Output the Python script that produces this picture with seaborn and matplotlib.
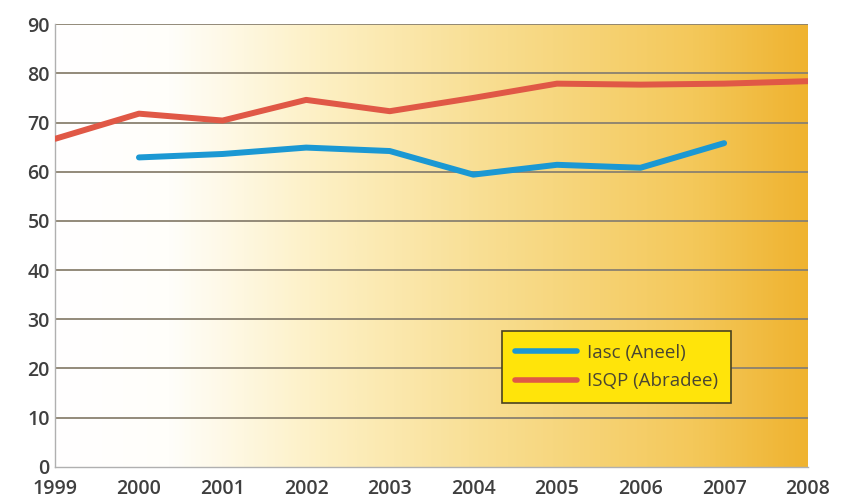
import numpy as np
import pandas as pd
import matplotlib
matplotlib.use("Agg")
import matplotlib.pyplot as plt
import seaborn as sns
from matplotlib.colors import LinearSegmentedColormap

# data
years = [1999, 2000, 2001, 2002, 2003, 2004, 2005, 2006, 2007, 2008]
isqp = [66.7, 71.8, 70.4, 74.6, 72.3, 75.0, 77.9, 77.7, 77.9, 78.4]
iasc = [np.nan, 62.9, 63.6, 64.9, 64.2, 59.4, 61.4, 60.8, 65.8, np.nan]
series_names = ["Iasc (Aneel)", "ISQP (Abradee)"]
y_ticks = [0, 10, 20, 30, 40, 50, 60, 70, 80, 90]

df = pd.DataFrame({"ano": years * 2,
                   "valor": iasc + isqp,
                   "serie": [series_names[0]] * len(years) + [series_names[1]] * len(years)})
df = df.dropna()

sns.set_style("white")
plt.rcParams['font.family'] = ['Open Sans', 'DejaVu Sans']

fig = plt.figure(figsize=(8.52, 5.03), dpi=100)
ax = fig.add_axes([0.065, 0.072, 0.883, 0.88])

# white -> gold gradient background
cmap = LinearSegmentedColormap.from_list(
    "bg", [(0.0, "#ffffff"), (0.15, "#fffefa"), (0.35, "#fdf0c4"),
           (0.6, "#f8dc8c"), (0.85, "#f4c85a"), (1.0, "#efb330")])
grad = np.linspace(0, 1, 400).reshape(1, -1)
ax.imshow(grad, aspect="auto", cmap=cmap, extent=[1999, 2008, 0, 90],
          zorder=0)

for t in y_ticks[1:]:
    ax.axhline(t, color="#8a8170", lw=1.3, zorder=1)

sns.lineplot(data=df, x="ano", y="valor", hue="serie",
             palette={series_names[0]: "#1b98d3", series_names[1]: "#e05846"},
             linewidth=4.3, ax=ax, zorder=3)

ax.set_xlim(1999, 2008)
ax.set_ylim(0, 90)
ax.set_xticks(years)
ax.set_xticklabels([str(y) for y in years])
ax.set_yticks(y_ticks)
ax.set_xlabel("")
ax.set_ylabel("")
ax.tick_params(axis="both", labelsize=14, colors="#444444", length=0)
ax.tick_params(axis="x", pad=8.5)
ax.tick_params(axis="y", pad=4)
for lab in ax.get_xticklabels() + ax.get_yticklabels():
    lab.set_fontweight("semibold")
    lab.set_color("#3f3f3f")

for s in ["top", "right"]:
    ax.spines[s].set_visible(False)
ax.spines["left"].set_color("#b0b0b0")
ax.spines["bottom"].set_color("#b0b0b0")
ax.spines["left"].set_linewidth(1)
ax.spines["bottom"].set_linewidth(1)

leg = ax.legend(loc="lower left", bbox_to_anchor=(0.594, 0.143), frameon=True,
                fontsize=13.5, handlelength=3.3, borderpad=0.7, labelspacing=0.55,
                handletextpad=0.5, borderaxespad=0, fancybox=False, framealpha=1)
leg.get_frame().set_facecolor("#ffe40a")
leg.get_frame().set_edgecolor("#4a4220")
leg.get_frame().set_linewidth(1.2)
for txt in leg.get_texts():
    txt.set_color("#4a4632")
for line in leg.get_lines():
    line.set_linewidth(4)

fig.savefig("out.png", dpi=100)
